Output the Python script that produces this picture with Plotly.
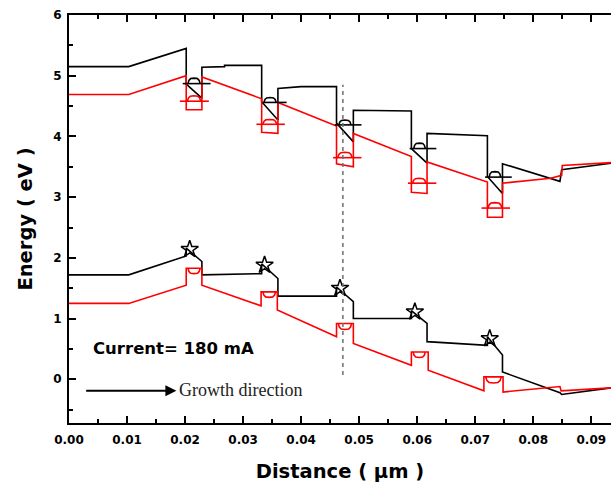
import plotly.graph_objects as go

# ---- band edges (distance in um, energy in eV) ----
cb_black_x = [0, 0.0103, 0.0202, 0.0202, 0.0229, 0.0229, 0.0268, 0.0268, 0.0332, 0.0332, 0.0360, 0.0360,
              0.0400, 0.0461, 0.0461, 0.0490, 0.0490, 0.0590, 0.0590, 0.0617, 0.0617, 0.0721, 0.0721,
              0.0747, 0.0747, 0.0846, 0.0849, 0.0935]
cb_black_y = [5.15, 5.15, 5.45, 4.86, 4.63, 5.14, 5.15, 5.17, 5.17, 4.57, 4.27, 4.79,
              4.82, 4.82, 4.22, 3.91, 4.43, 4.42, 3.80, 3.56, 4.05, 4.01, 3.34,
              3.06, 3.55, 3.26, 3.45, 3.56]

cb_red_x = [0, 0.0103, 0.0202, 0.0202, 0.0229, 0.0229, 0.0332, 0.0332, 0.0360, 0.0360, 0.0461, 0.0461,
            0.0490, 0.0490, 0.0590, 0.0590, 0.0617, 0.0617, 0.0721, 0.0721, 0.0747, 0.0747, 0.0830,
            0.0849, 0.0850, 0.0935]
cb_red_y = [4.69, 4.69, 5.00, 4.44, 4.44, 4.98, 4.62, 4.07, 4.05, 4.56, 4.17, 3.55,
            3.50, 4.05, 3.67, 3.08, 3.06, 3.58, 3.25, 2.67, 2.67, 3.23, 3.31,
            3.36, 3.52, 3.57]

vb_black_x = [0, 0.0103, 0.0202, 0.0202, 0.0229, 0.0229, 0.0332, 0.0332, 0.0360, 0.0360, 0.0461, 0.0461,
              0.0490, 0.0490, 0.0590, 0.0590, 0.0617, 0.0617, 0.0721, 0.0721, 0.0747, 0.0747, 0.0846,
              0.0849, 0.0935]
vb_black_y = [1.72, 1.72, 2.03, 2.16, 1.94, 1.72, 1.74, 1.90, 1.66, 1.37, 1.37, 1.52,
              1.28, 1.00, 1.00, 1.13, 0.92, 0.62, 0.56, 0.70, 0.40, 0.12, -0.22,
              -0.25, -0.14]

vb_red_x = [0, 0.0103, 0.0202, 0.0202, 0.0229, 0.0229, 0.0331, 0.0331, 0.0359, 0.0359, 0.0461, 0.0461,
            0.0490, 0.0490, 0.0590, 0.0590, 0.0619, 0.0619, 0.0715, 0.0715, 0.0748, 0.0748, 0.0846,
            0.0848, 0.0935]
vb_red_y = [1.25, 1.25, 1.55, 1.83, 1.83, 1.55, 1.21, 1.44, 1.44, 1.14, 0.70, 0.92,
            0.92, 0.59, 0.23, 0.45, 0.45, 0.15, -0.19, 0.04, 0.04, -0.21, -0.12,
            -0.19, -0.14]

# ---- confined levels in the five wells ----
# black (upper) levels: energy, level-line span, hump span, hump peak
blk_lvl_E = [4.87, 4.56, 4.19, 3.80, 3.33]
blk_lvl_x0 = [0.0196, 0.0334, 0.0458, 0.0587, 0.0717]
blk_lvl_x1 = [0.0244, 0.0375, 0.0504, 0.0633, 0.0763]
blk_hump_x0 = [0.0205, 0.0336, 0.0465, 0.0594, 0.0724]
blk_hump_x1 = [0.0226, 0.0357, 0.0486, 0.0614, 0.0744]
blk_hump_pk = [4.96, 4.64, 4.27, 3.89, 3.42]

red_lvl_E = [4.58, 4.20, 3.65, 3.23, 2.82]
red_lvl_x0 = [0.0191, 0.0323, 0.0455, 0.0584, 0.0711]
red_lvl_x1 = [0.0241, 0.0372, 0.0504, 0.0633, 0.0760]
red_hump_x0 = [0.0204, 0.0334, 0.0463, 0.0592, 0.0722]
red_hump_x1 = [0.0227, 0.0358, 0.0488, 0.0615, 0.0746]
red_hump_pk = [4.67, 4.28, 3.74, 3.31, 2.91]

# lower red levels hang from the well tops
vred_top = [1.83, 1.44, 0.92, 0.45, 0.04]
vred_hump_x0 = [0.0205, 0.0334, 0.0464, 0.0593, 0.0718]
vred_hump_x1 = [0.0226, 0.0356, 0.0487, 0.0614, 0.0745]
vred_hump_pk = [1.74, 1.35, 0.82, 0.36, -0.06]

# lower black levels (star marks)
star_x = [0.0208, 0.0337, 0.0467, 0.0596, 0.0725]
star_y = [2.14, 1.88, 1.50, 1.11, 0.67]

dash_x = 0.0472
dash_y = [0.07, 4.85]

x_ticks = [0.00, 0.01, 0.02, 0.03, 0.04, 0.05, 0.06, 0.07, 0.08, 0.09]
y_ticks = [0, 1, 2, 3, 4, 5, 6]

# outline of a rounded hump, as fractions of its span and height
HUMP_T = [0, 0.08, 0.22, 0.5, 0.78, 0.92, 1]
HUMP_S = [0, 0.6, 0.92, 1.0, 0.92, 0.6, 0]


def level_path(lx0, lx1, le, hx0, hx1, hpk):
    xs, ys = [], []
    for a, b, e, c, d, p in zip(lx0, lx1, le, hx0, hx1, hpk):
        xs += [a, b, None]
        ys += [e, e, None]
        xs += [c + (d - c) * t for t in HUMP_T] + [None]
        ys += [e + (p - e) * s for s in HUMP_S] + [None]
    return xs, ys


def hump_path(top, hx0, hx1, hpk):
    xs, ys = [], []
    for e, c, d, p in zip(top, hx0, hx1, hpk):
        xs += [c + (d - c) * t for t in HUMP_T] + [None]
        ys += [e + (p - e) * s for s in HUMP_S] + [None]
    return xs, ys


BLACK = "#000000"
RED = "#ff0000"
LW = 1.6

fig = go.Figure()
for xs, ys, col in [(cb_black_x, cb_black_y, BLACK), (cb_red_x, cb_red_y, RED),
                    (vb_black_x, vb_black_y, BLACK), (vb_red_x, vb_red_y, RED)]:
    fig.add_trace(go.Scatter(x=xs, y=ys, mode="lines", line=dict(color=col, width=LW),
                             showlegend=False, hoverinfo="skip"))

bx, by = level_path(blk_lvl_x0, blk_lvl_x1, blk_lvl_E, blk_hump_x0, blk_hump_x1, blk_hump_pk)
fig.add_trace(go.Scatter(x=bx, y=by, mode="lines", line=dict(color=BLACK, width=LW),
                         showlegend=False, hoverinfo="skip"))
rx, ry = level_path(red_lvl_x0, red_lvl_x1, red_lvl_E, red_hump_x0, red_hump_x1, red_hump_pk)
fig.add_trace(go.Scatter(x=rx, y=ry, mode="lines", line=dict(color=RED, width=LW),
                         showlegend=False, hoverinfo="skip"))
vx, vy = hump_path(vred_top, vred_hump_x0, vred_hump_x1, vred_hump_pk)
fig.add_trace(go.Scatter(x=vx, y=vy, mode="lines", line=dict(color=RED, width=LW),
                         showlegend=False, hoverinfo="skip"))
fig.add_trace(go.Scatter(x=star_x, y=star_y, mode="markers",
                         marker=dict(symbol="star-open", size=13, color=BLACK, line=dict(width=1.5, color=BLACK)),
                         showlegend=False, hoverinfo="skip"))

fig.add_trace(go.Scatter(x=[dash_x, dash_x], y=dash_y, mode="lines",
                         line=dict(color="#6f6f6f", width=1.5, dash="4px,4px"),
                         showlegend=False, hoverinfo="skip"))

FONT = "DejaVu Sans"

fig.add_annotation(x=0.0038, y=0.51, xref="x", yref="y", text="<b>Current= 180 mA</b>",
                   showarrow=False, xanchor="left", yanchor="middle",
                   font=dict(family=FONT, size=16.5, color="black"))
fig.add_annotation(x=0.0185, y=-0.19, ax=0.0027, ay=-0.19, xref="x", yref="y", axref="x", ayref="y",
                   text="", showarrow=True, arrowhead=2, arrowsize=1.1, arrowwidth=2, arrowcolor="black")
fig.add_annotation(x=0.0186, y=-0.17, xref="x", yref="y", text="Growth direction",
                   showarrow=False, xanchor="left", yanchor="middle",
                   font=dict(family="Liberation Serif", size=18, color="#222222"))

axis_common = dict(showline=True, linecolor="black", linewidth=2, ticks="inside", ticklen=7,
                   tickwidth=1.5, tickcolor="black", showgrid=False, zeroline=False,
                   tickfont=dict(family=FONT, size=12, color="black"))

fig.update_xaxes(range=[0, 0.0934], tickvals=x_ticks, ticktext=[f"<b>{v:.2f}</b>" for v in x_ticks],
                 mirror="ticks", ticklabelstandoff=5,
                 minor=dict(dtick=0.005, ticks="inside", ticklen=4, tickwidth=1.5, tickcolor="black"),
                 title=dict(text="<b>Distance ( µm )</b>", font=dict(family=FONT, size=19.5, color="black"),
                            standoff=18),
                 **axis_common)
fig.update_yaxes(range=[-0.72, 6], tickvals=y_ticks, ticktext=[f"<b>{v}</b>" for v in y_ticks],
                 mirror=False, ticklabelstandoff=3,
                 minor=dict(dtick=0.5, ticks="inside", ticklen=4, tickwidth=1.5, tickcolor="black"),
                 title=dict(text="<b>Energy ( eV )</b>", font=dict(family=FONT, size=19.5, color="black"),
                            standoff=15),
                 **axis_common)

fig.update_layout(width=611, height=486, margin=dict(l=69, r=0, t=15, b=63, pad=0),
                  plot_bgcolor="white", paper_bgcolor="white", showlegend=False)

fig.write_html("out.html")
